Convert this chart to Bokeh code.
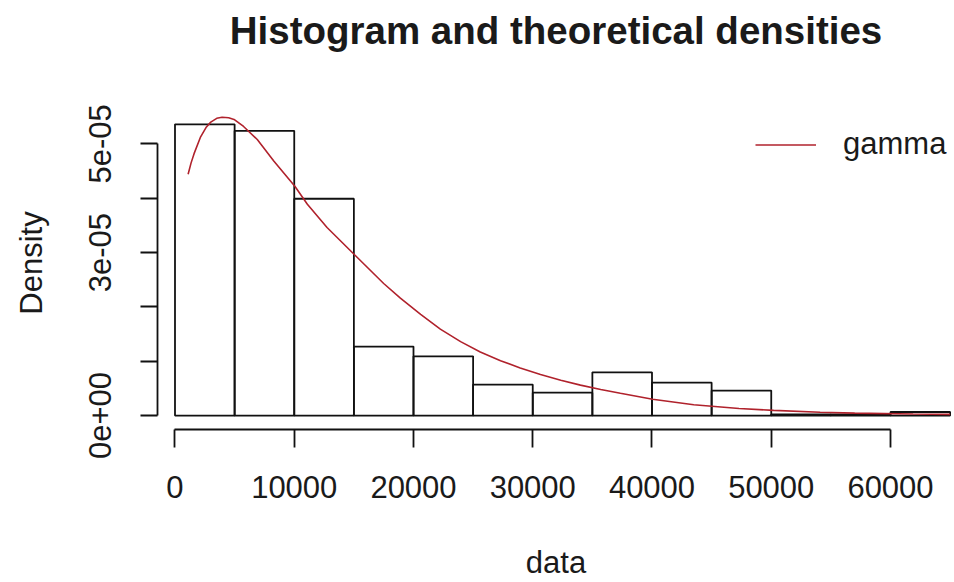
from bokeh.plotting import figure
from bokeh.models import Range1d, FixedTicker, Legend, LegendItem, ColumnDataSource, Title
from bokeh.embed import file_html
from bokeh.resources import INLINE

# ---- data ----
bin_edges = [0, 5000, 10000, 15000, 20000, 25000, 30000, 35000, 40000, 45000,
             50000, 55000, 60000, 65000]
bar_density = [5.36e-5, 5.24e-5, 3.99e-5, 1.27e-5, 1.09e-5, 0.57e-5, 0.42e-5,
               0.795e-5, 0.606e-5, 0.459e-5, 0.02e-5, 0.02e-5, 0.065e-5]

gamma_x = [1100, 1350, 1600, 2150, 2600, 3000, 3500, 3950, 4500, 4950, 5750, 6900,
           8300, 10050, 11100, 12750, 15100, 17500, 18900, 20600, 22250, 23950,
           25600, 27300, 28950, 30650, 32350, 34000, 35700, 37350, 40050, 43500,
           47300, 50200, 54100, 57000, 61900, 65000]
gamma_y = [4.44e-5, 4.65e-5, 4.82e-5, 5.13e-5, 5.30e-5, 5.40e-5, 5.47e-5, 5.49e-5,
           5.48e-5, 5.45e-5, 5.32e-5, 5.08e-5, 4.68e-5, 4.22e-5, 3.89e-5, 3.46e-5,
           2.95e-5, 2.43e-5, 2.16e-5, 1.86e-5, 1.59e-5, 1.36e-5, 1.17e-5, 1.01e-5,
           0.875e-5, 0.755e-5, 0.65e-5, 0.56e-5, 0.48e-5, 0.41e-5, 0.30e-5, 0.20e-5,
           0.13e-5, 0.095e-5, 0.06e-5, 0.045e-5, 0.028e-5, 0.022e-5]

x_ticks = [0, 10000, 20000, 30000, 40000, 50000, 60000]
y_ticks = [0.0, 1e-05, 2e-05, 3e-05, 4e-05, 5e-05]
y_tick_labels = ["0e+00", "", "", "3e-05", "", "5e-05"]

title_text = "Histogram and theoretical densities"
x_title = "data"
y_title = "Density"
legend_label = "gamma"
FONT = "Liberation Sans"
TXT = "#1a1a1a"

bars = ColumnDataSource(dict(left=bin_edges[:-1], right=bin_edges[1:],
                             top=bar_density, bottom=[0] * len(bar_density)))
curve = ColumnDataSource(dict(x=gamma_x, y=gamma_y))

p = figure(width=954, height=582, output_backend="svg", toolbar_location=None,
           x_range=Range1d(-1467, 65367), y_range=Range1d(-2.569e-6, 5.8716e-5),
           min_border_left=157, min_border_right=0, min_border_top=96,
           min_border_bottom=152, title=title_text)

p.grid.visible = False
p.outline_line_color = None
p.background_fill_color = "white"
p.border_fill_color = "white"

p.title.text_font = FONT
p.title.text_font_size = "38.5px"
p.title.text_font_style = "bold"
p.title.text_color = TXT
p.title.align = "center"
p.title.standoff = 4

# blank spacer panel between title and plotting area
p.add_layout(Title(text=" ", text_font_size="10px", standoff=30), "above")

p.quad(left="left", right="right", top="top", bottom="bottom", source=bars,
       fill_color=None, line_color="#111111", line_width=1.8)
gl = p.line("x", "y", source=curve, line_color="#b0222c", line_width=1.6)

for ax in (p.xaxis[0], p.yaxis[0]):
    ax.axis_line_width = 1.8
    ax.axis_line_color = "#111111"
    ax.major_tick_line_width = 1.8
    ax.major_tick_line_color = "#111111"
    ax.major_tick_in = 0
    ax.minor_tick_line_color = None
    ax.major_label_text_font = FONT
    ax.major_label_text_font_size = "31px"
    ax.major_label_text_color = TXT
    ax.axis_label_text_font = FONT
    ax.axis_label_text_font_size = "31px"
    ax.axis_label_text_font_style = "normal"
    ax.axis_label_text_color = TXT

xa = p.xaxis[0]
xa.ticker = FixedTicker(ticks=x_ticks)
xa.bounds = (x_ticks[0], x_ticks[-1])
xa.major_tick_out = 18
xa.major_label_standoff = 28
xa.major_label_overrides = {t: str(t) for t in x_ticks}
xa.axis_label = x_title
xa.axis_label_standoff = 44

ya = p.yaxis[0]
ya.ticker = FixedTicker(ticks=y_ticks)
ya.bounds = (y_ticks[0], y_ticks[-1])
ya.major_tick_out = 17
ya.major_label_orientation = "vertical"
ya.major_label_standoff = 29
ya.major_label_overrides = dict(zip(y_ticks, y_tick_labels))
ya.axis_label = y_title
ya.axis_label_standoff = 38

legend = Legend(items=[LegendItem(label=legend_label, renderers=[gl])],
                location=(598, 267), glyph_width=61, glyph_height=35,
                label_standoff=27, padding=0, margin=0, spacing=0,
                border_line_alpha=0, background_fill_alpha=0,
                label_text_font=FONT, label_text_font_size="31px",
                label_text_color=TXT)
p.add_layout(legend)

open("out.html", "w").write(file_html(p, INLINE))
